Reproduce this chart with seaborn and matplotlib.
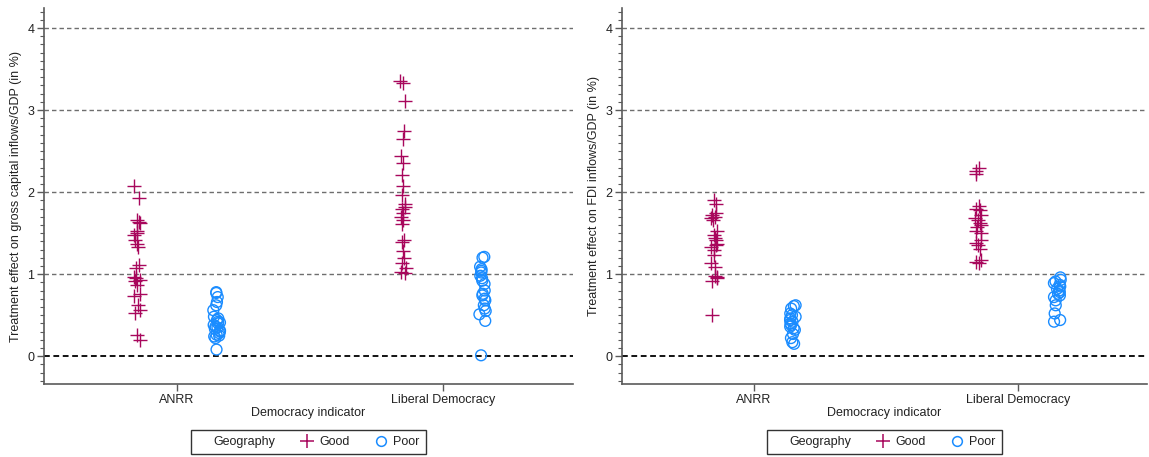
import numpy as np
import pandas as pd
import matplotlib
matplotlib.use("Agg")
import matplotlib.pyplot as plt
from matplotlib.lines import Line2D
from matplotlib.ticker import MultipleLocator
import seaborn as sns

# ---- data -------------------------------------------------------------
indicators = ["ANRR", "Liberal Democracy"]
geographies = ["Good", "Poor"]

# Panel 1: gross capital inflows / GDP
gross_anrr_good = [2.07, 1.93, 1.66, 1.64, 1.62, 1.52, 1.50, 1.48, 1.42, 1.37, 1.33, 1.11,
                   1.08, 0.97, 0.95, 0.93, 0.91, 0.87, 0.76, 0.73, 0.62, 0.56, 0.53, 0.26, 0.20]
gross_anrr_poor = [0.78, 0.77, 0.72, 0.66, 0.62, 0.56, 0.48, 0.46, 0.44, 0.42, 0.41, 0.40,
                   0.38, 0.36, 0.35, 0.33, 0.31, 0.30, 0.28, 0.26, 0.25, 0.24, 0.22, 0.08]
gross_libdem_good = [3.35, 3.33, 3.11, 2.74, 2.65, 2.44, 2.35, 2.21, 2.07, 1.96, 1.85, 1.82,
                     1.79, 1.75, 1.70, 1.66, 1.61, 1.41, 1.39, 1.28, 1.20, 1.14, 1.07, 1.03, 1.01]
gross_libdem_poor = [1.21, 1.20, 1.09, 1.06, 1.04, 1.02, 0.98, 0.95, 0.92, 0.88, 0.80, 0.76,
                     0.74, 0.70, 0.68, 0.62, 0.58, 0.55, 0.51, 0.43, 0.01]

# Panel 2: FDI inflows / GDP
fdi_anrr_good = [1.90, 1.85, 1.74, 1.72, 1.70, 1.68, 1.66, 1.52, 1.48, 1.44, 1.41, 1.37,
                 1.35, 1.33, 1.29, 1.23, 1.13, 1.09, 0.98, 0.97, 0.95, 0.92, 0.50]
fdi_anrr_poor = [0.62, 0.61, 0.58, 0.52, 0.50, 0.48, 0.46, 0.44, 0.42, 0.40, 0.38, 0.36,
                 0.34, 0.32, 0.27, 0.22, 0.17, 0.15]
fdi_libdem_good = [2.29, 2.26, 2.22, 1.83, 1.80, 1.78, 1.72, 1.69, 1.66, 1.62, 1.60, 1.57,
                   1.53, 1.50, 1.41, 1.38, 1.35, 1.31, 1.17, 1.15, 1.13]
fdi_libdem_poor = [0.96, 0.93, 0.91, 0.89, 0.87, 0.85, 0.82, 0.80, 0.78, 0.76, 0.74, 0.72,
                   0.68, 0.62, 0.52, 0.44, 0.42]

y_labels = ["Treatment effect on gross capital inflows/GDP (in %)",
            "Treatment effect on FDI inflows/GDP (in %)"]
x_label = "Democracy indicator"
legend_title = "Geography"

GOOD_COLOR = "#a8075c"
POOR_COLOR = "#1a8cff"
AXIS_GRAY = "#5a5a5a"


def long_frame(anrr_good, anrr_poor, libdem_good, libdem_poor):
    parts = []
    for ind, geo, vals in [(indicators[0], geographies[0], anrr_good),
                           (indicators[0], geographies[1], anrr_poor),
                           (indicators[1], geographies[0], libdem_good),
                           (indicators[1], geographies[1], libdem_poor)]:
        parts.append(pd.DataFrame({"indicator": ind, "geography": geo, "effect": vals}))
    return pd.concat(parts, ignore_index=True)


panels = [
    long_frame(gross_anrr_good, gross_anrr_poor, gross_libdem_good, gross_libdem_poor),
    long_frame(fdi_anrr_good, fdi_anrr_poor, fdi_libdem_good, fdi_libdem_poor),
]

# ---- styling ----------------------------------------------------------
sns.set_theme(style="white")
plt.rcParams["font.family"] = ["Liberation Sans", "DejaVu Sans"]

W, H = 1149, 457
fig = plt.figure(figsize=(W / 100, H / 100), dpi=100)
axes = [fig.add_axes([44 / W, 73 / H, 529 / W, 376 / H]),
        fig.add_axes([622 / W, 73 / H, 525 / W, 376 / H])]

np.random.seed(7)

for ax, df, ylab in zip(axes, panels, y_labels):
    styles = {
        "Good": dict(marker="+", size=9.5),
        "Poor": dict(marker="o", size=7.8),
    }
    for geo in geographies:
        n_before = len(ax.collections)
        sub = df[df["geography"] == geo]
        sns.stripplot(data=sub, x="indicator", y="effect", hue="geography",
                      order=indicators, hue_order=geographies,
                      palette=[GOOD_COLOR, POOR_COLOR], dodge=True, jitter=0.035,
                      linewidth=1, legend=False, ax=ax, **styles[geo])
        for coll in ax.collections[n_before:]:
            # pull the two geography groups a bit closer to their category
            offs = coll.get_offsets().copy()
            if len(offs):
                centre = np.round(offs[:, 0])
                offs[:, 0] = centre + (offs[:, 0] - centre) * 0.75
                coll.set_offsets(offs)
            if geo == "Good":
                coll.set_facecolor(GOOD_COLOR)
                coll.set_edgecolor(GOOD_COLOR)
            else:
                coll.set_facecolor("none")
                coll.set_edgecolor(POOR_COLOR)
            coll.set_linewidth(1.0)

    ax.set_xlim(-0.5, 1.49)
    ax.set_ylim(-0.34, 4.245)
    ax.yaxis.set_major_locator(MultipleLocator(1))
    ax.yaxis.set_minor_locator(MultipleLocator(0.1))

    for v in [1, 2, 3, 4]:
        ax.axhline(v, color="#6e6e6e", lw=1.0, ls=(0, (3.2, 2.2)), zorder=1)
    ax.axhline(0, color="black", lw=1.3, ls=(0, (3.2, 2.0)), zorder=1)

    for side in ["top", "right"]:
        ax.spines[side].set_visible(False)
    for side in ["left", "bottom"]:
        ax.spines[side].set_color(AXIS_GRAY)
        ax.spines[side].set_linewidth(1.2)

    ax.tick_params(axis="both", which="major", direction="out", length=5, width=1,
                   color=AXIS_GRAY, labelsize=9, labelcolor="#222222", pad=2)
    ax.tick_params(axis="y", which="minor", direction="out", length=3, width=0.8,
                   color=AXIS_GRAY, left=True)
    ax.tick_params(axis="x", which="minor", bottom=False)
    ax.tick_params(axis="y", which="major", left=True)
    ax.tick_params(axis="x", which="major", bottom=True)

    ax.set_ylabel(ylab, fontsize=9, color="#222222", labelpad=4)
    ax.set_xlabel(x_label, fontsize=9, color="#222222", labelpad=1)

    handles = [
        Line2D([], [], linestyle="none", label=legend_title),
        Line2D([], [], linestyle="none", marker="+", color=GOOD_COLOR,
               markersize=10, markeredgewidth=1.1, label=geographies[0]),
        Line2D([], [], linestyle="none", marker="o", markerfacecolor="none",
               markeredgecolor=POOR_COLOR, markersize=7, markeredgewidth=1.1,
               label=geographies[1]),
    ]
    leg = ax.legend(handles=handles, ncol=3, loc="upper center",
                    bbox_to_anchor=(0.5, -0.122), borderaxespad=0,
                    frameon=True, fancybox=False, fontsize=9,
                    handlelength=0.6, handletextpad=0.7, columnspacing=2.2,
                    borderpad=0.5)
    leg.get_frame().set_edgecolor("black")
    leg.get_frame().set_linewidth(1.0)
    for t in leg.get_texts():
        t.set_color("#222222")

fig.savefig("out.png", dpi=100, facecolor="white")
